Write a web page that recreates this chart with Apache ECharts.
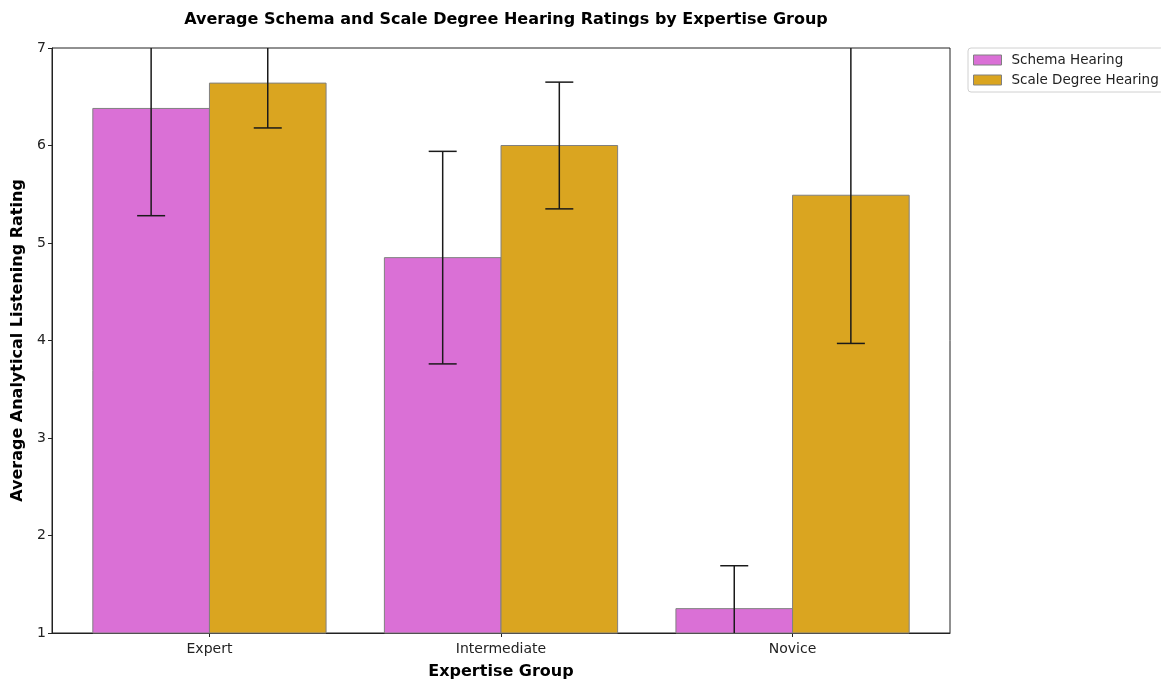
<!DOCTYPE html>
<html>
<head>
<meta charset="utf-8">
<script src="https://cdn.jsdelivr.net/npm/echarts@6/dist/echarts.min.js"></script>
<style>
  html, body { margin: 0; padding: 0; background: #fff; }
  #chart { width: 1161px; height: 682px; }
</style>
</head>
<body>
<div id="chart"></div>
<script>
// Expertise groups on the x axis
const groups = ['Expert', 'Intermediate', 'Novice'];

// Mean ratings and their error-bar half-widths
const schemaMeans = [6.38, 4.85, 1.25];
const schemaErrors = [1.10, 1.09, 0.44];
const scaleMeans = [6.64, 6.00, 5.49];
const scaleErrors = [0.46, 0.65, 1.52];

const seriesNames = ['Schema Hearing', 'Scale Degree Hearing'];
const seriesColors = ['#DA70D6', '#DAA520'];

// Y axis range and ticks
const yMin = 1, yMax = 7, yStep = 1;

// Bars sit side by side: each 0.4 wide, left one ends at the group centre
const barWidth = 0.4;
const xMin = -0.54, xMax = 2.54;

const FONT = 'DejaVu Sans';

function makeSeries(idx, means, errors) {
  const offset = idx === 0 ? -barWidth : 0;
  return {
    type: 'custom',
    name: seriesNames[idx],
    itemStyle: { color: seriesColors[idx], borderColor: '#808080', borderWidth: 1 },
    data: means.map((m, i) => [i, m, errors[i]]),
    encode: { x: 0, y: 1 },
    renderItem: function (params, api) {
      const i = api.value(0);
      const mean = api.value(1);
      const err = api.value(2);
      const cs = params.coordSys;
      const left = api.coord([i + offset, mean]);
      const right = api.coord([i + offset + barWidth, 0]);
      const rect = echarts.graphic.clipRectByRect(
        { x: left[0], y: left[1], width: right[0] - left[0], height: right[1] - left[1] },
        { x: cs.x, y: cs.y, width: cs.width, height: cs.height }
      );
      const children = [];
      if (rect) {
        children.push({
          type: 'rect',
          shape: rect,
          style: { fill: seriesColors[idx], stroke: '#808080', lineWidth: 1 }
        });
      }
      const cx = i + offset + barWidth / 2;
      const lo = mean - err, hi = mean + err;
      const p1 = api.coord([cx, Math.max(lo, yMin)]);
      const p2 = api.coord([cx, Math.min(hi, yMax)]);
      const lineStyle = { stroke: '#1a1a1a', lineWidth: 1.5 };
      children.push({ type: 'line', shape: { x1: p1[0], y1: p1[1], x2: p2[0], y2: p2[1] }, style: lineStyle });
      const capHalf = 14;
      [lo, hi].forEach(v => {
        if (v >= yMin && v <= yMax) {
          const p = api.coord([cx, v]);
          children.push({ type: 'line', shape: { x1: p[0] - capHalf, y1: p[1], x2: p[0] + capHalf, y2: p[1] }, style: lineStyle });
        }
      });
      return { type: 'group', children: children };
    }
  };
}

const chart = echarts.init(document.getElementById('chart'), null, { renderer: 'canvas' });

chart.setOption({
  animation: false,
  backgroundColor: '#fff',
  title: {
    text: 'Average Schema and Scale Degree Hearing Ratings by Expertise Group',
    left: 501,
    textAlign: 'center',
    top: 7,
    textStyle: { fontFamily: FONT, fontSize: 16, fontWeight: 'bold', color: '#000' }
  },
  legend: {
    orient: 'vertical',
    left: 968,
    top: 48,
    padding: [5, 5, 5, 5],
    itemGap: 6,
    itemWidth: 28,
    itemHeight: 10,
    icon: 'rect',
    borderColor: '#d0d0d0',
    borderWidth: 1,
    borderRadius: 3,
    selectedMode: false,
    itemStyle: { borderColor: '#808080', borderWidth: 1 },
    textStyle: { fontFamily: FONT, fontSize: 13.5, color: '#222', padding: [0, 0, 0, 5] },
    data: seriesNames
  },
  grid: {
    left: 52,
    right: 211,
    top: 48,
    bottom: 49,
    show: true,
    borderColor: '#222',
    borderWidth: 1,
    containLabel: false,
    outerBoundsMode: 'none'
  },
  xAxis: {
    type: 'value',
    min: xMin,
    max: xMax,
    name: 'Expertise Group',
    nameLocation: 'middle',
    nameGap: 31,
    nameTextStyle: { fontFamily: FONT, fontSize: 16, fontWeight: 'bold', color: '#000' },
    splitLine: { show: false },
    axisLine: { show: true, onZero: false, lineStyle: { color: '#222', width: 1 } },
    axisTick: { show: true, customValues: [0, 1, 2], length: 4, lineStyle: { color: '#222' } },
    axisLabel: {
      customValues: [0, 1, 2],
      formatter: v => groups[Math.round(v)],
      fontFamily: FONT, fontSize: 14, color: '#222', margin: 9
    }
  },
  yAxis: {
    type: 'value',
    min: yMin,
    max: yMax,
    interval: yStep,
    name: 'Average Analytical Listening Rating',
    nameLocation: 'middle',
    nameGap: 24,
    nameTextStyle: { fontFamily: FONT, fontSize: 16, fontWeight: 'bold', color: '#000' },
    splitLine: { show: false },
    axisLine: { show: true, onZero: false, lineStyle: { color: '#222', width: 1 } },
    axisTick: { show: true, length: 4, lineStyle: { color: '#222' } },
    axisLabel: { fontFamily: FONT, fontSize: 14, color: '#222', margin: 6 }
  },
  series: [
    makeSeries(0, schemaMeans, schemaErrors),
    makeSeries(1, scaleMeans, scaleErrors)
  ]
});
</script>
</body>
</html>
